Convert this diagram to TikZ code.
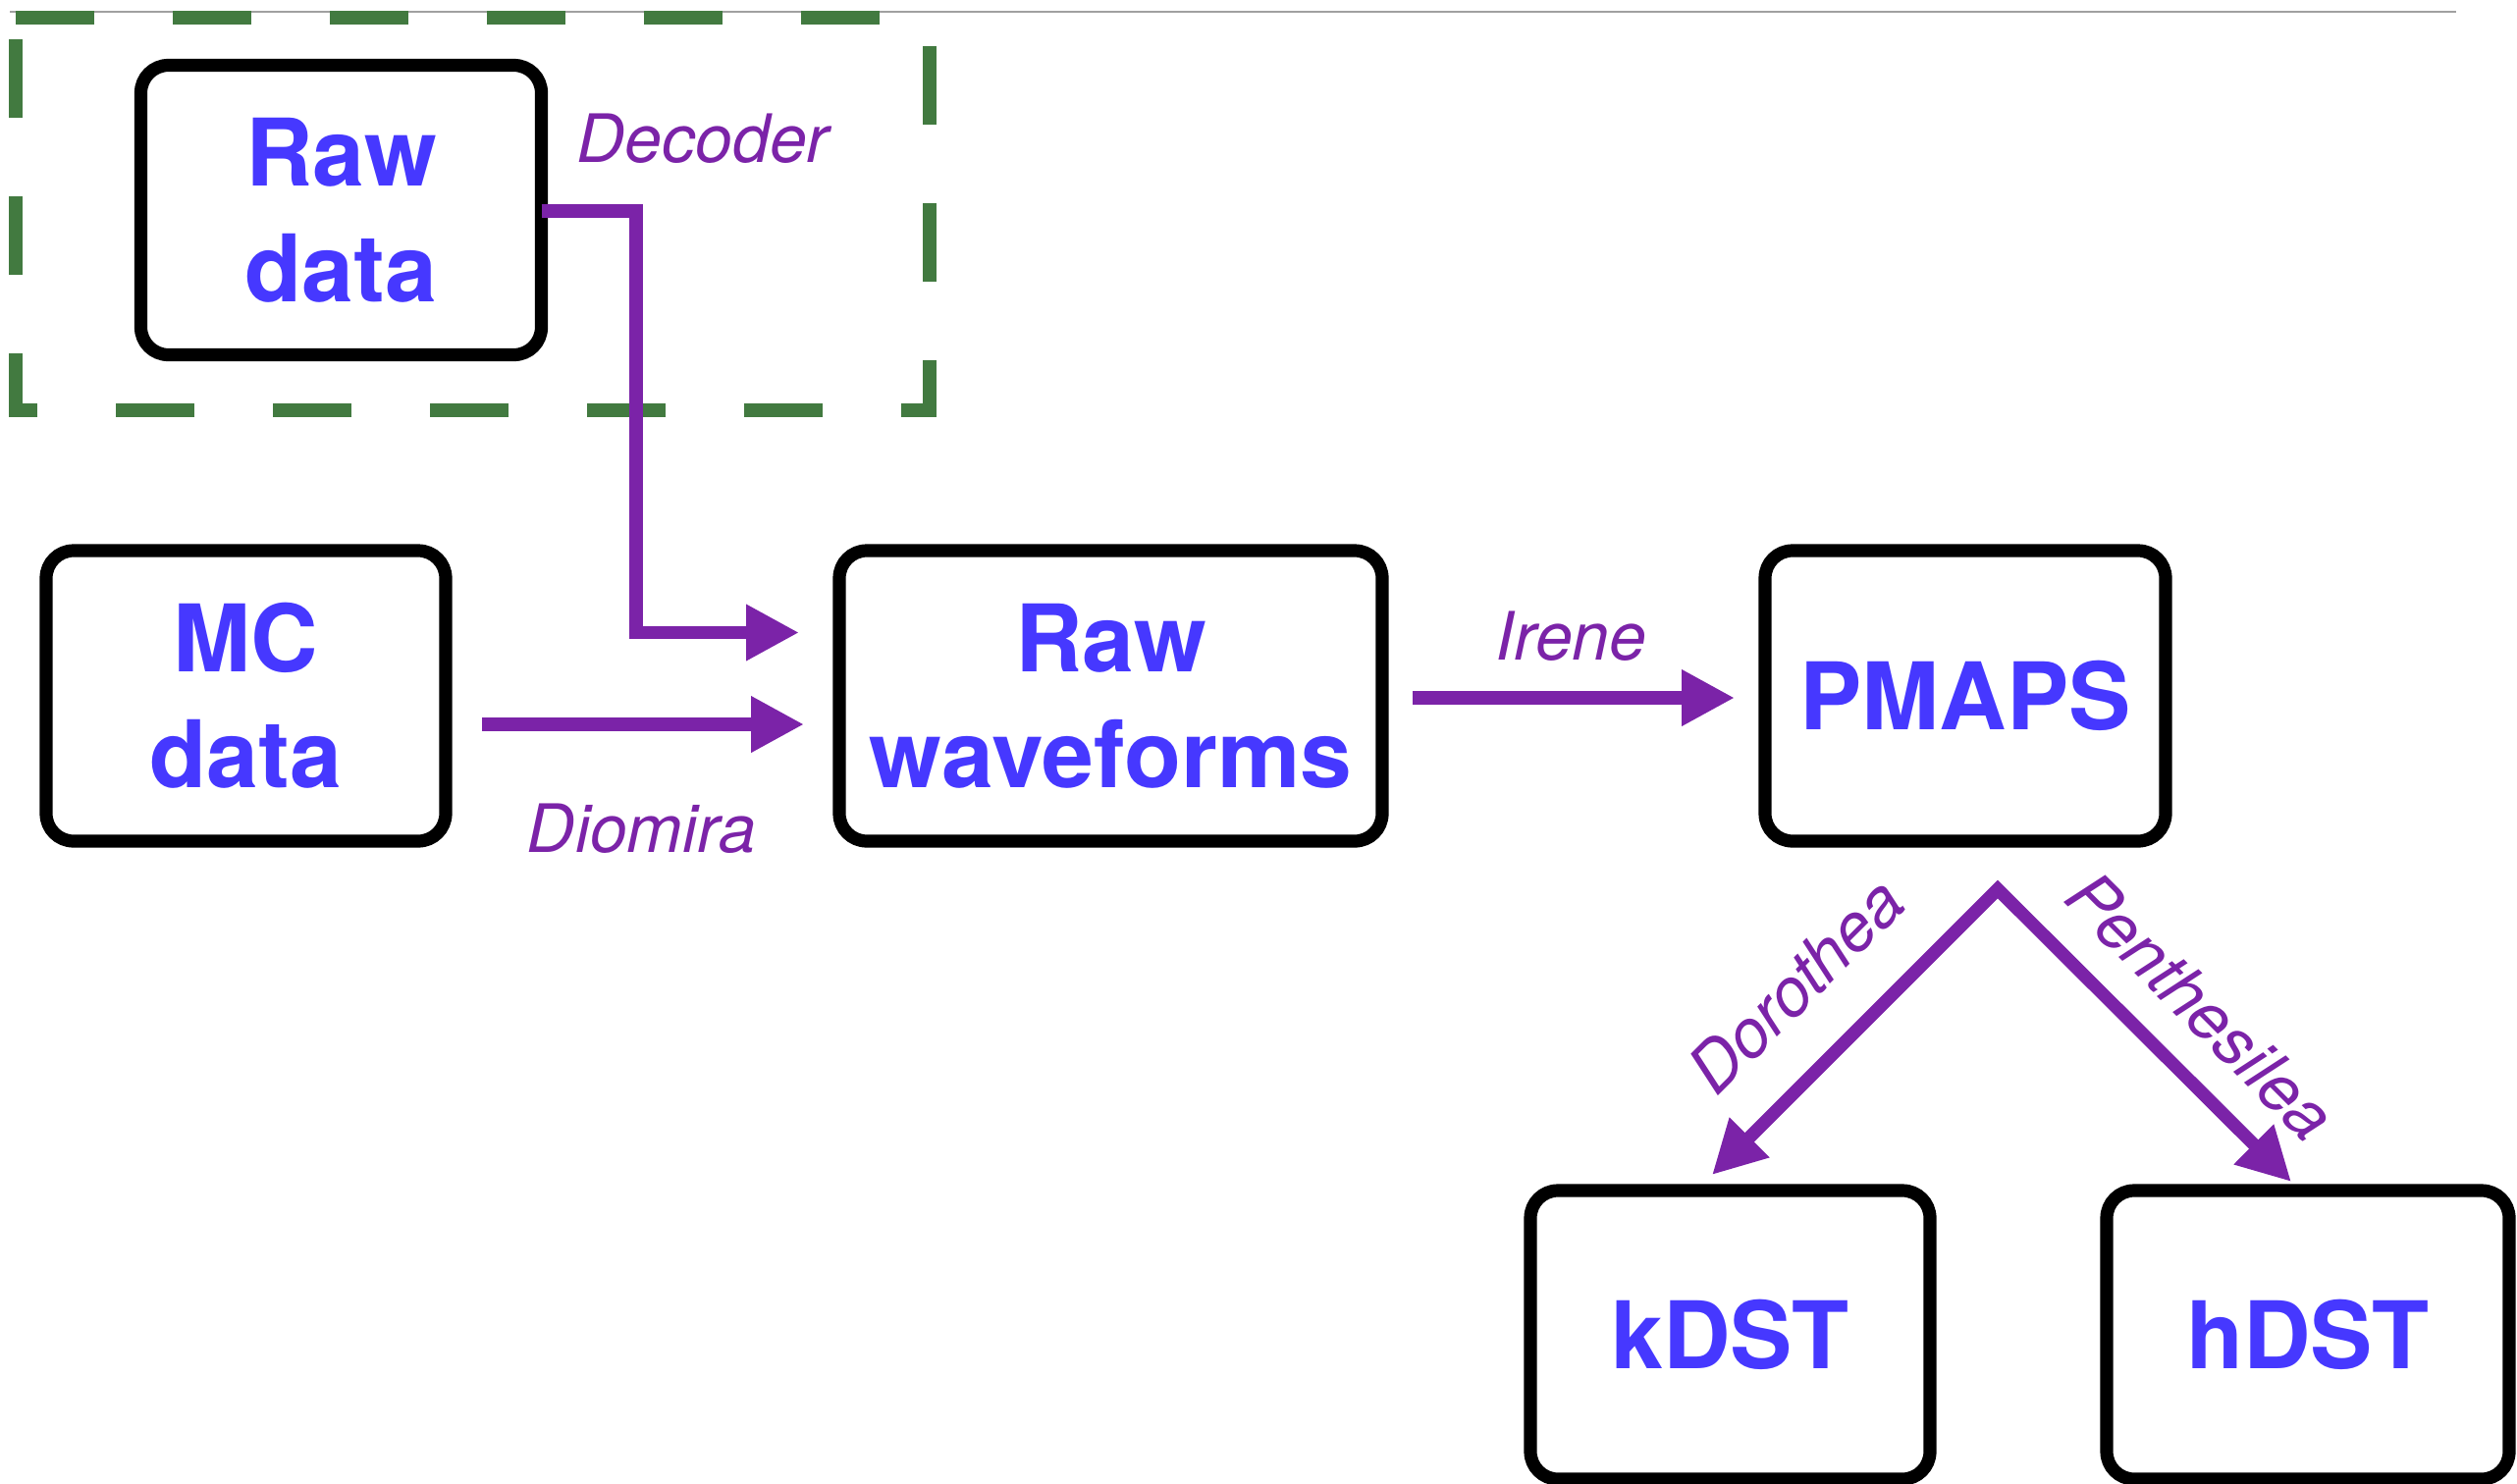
\documentclass[tikz,border=0pt]{standalone}
\usepackage{fontspec}
\setmainfont{TeX Gyre Heros}
\usetikzlibrary{arrows.meta,calc}
\definecolor{boxtext}{RGB}{70,56,255}
\definecolor{flowpurple}{RGB}{123,35,168}
\definecolor{groupgreen}{RGB}{66,122,64}
\definecolor{rulegray}{RGB}{160,160,160}
\tikzset{
  stage/.style={draw=black, line width=6.6pt, rounded corners=14pt, outer sep=0pt,
    inner sep=0pt, align=center, text=boxtext,
    font=\fontsize{47.5pt}{59pt}\selectfont\bfseries},
  flowtip/.tip={Triangle[length=27pt,width=27pt]},
  flow/.style={draw=flowpurple, line width=6.6pt, -flowtip},
  tool/.style={text=flowpurple, inner sep=0pt,
    font=\fontsize{34pt}{40pt}\selectfont\itshape},
}
\begin{document}
\begin{tikzpicture}[x=0.5pt,y=-0.5pt]
\useasboundingbox (0,0) rectangle (2564,1511);

% top rule and the dashed group around the raw data
\draw[rulegray, line width=1.3pt] (10,12) -- (2502,12);
\draw[groupgreen, line width=6.6pt, dash pattern=on 40pt off 40pt]
  (16,18) -- (947,18) -- (947,418) -- (16,418) -- cycle;

% processing stages
\node[stage, minimum width=204pt,   minimum height=147.5pt] (raw)   at (347.5,214)  {Raw\\data};
\node[stage, minimum width=203.5pt, minimum height=148pt]   (mc)    at (250.5,709)  {MC\\data};
\node[stage, minimum width=276.5pt, minimum height=148pt]   (wave)  at (1131.5,709) {Raw\\waveforms};
\node[stage, minimum width=204pt,   minimum height=148pt]   (pmaps) at (2002,709)   {PMAPS};
\node[stage, minimum width=203.5pt, minimum height=147pt]   (kdst)  at (1762.5,1360) {kDST};
\node[stage, minimum width=205pt,   minimum height=147pt]   (hdst)  at (2351,1360)  {hDST};

% Decoder: raw data -> raw waveforms
\coordinate (decturn) at (648,644.5);
\draw[flow] ($(raw.east)+(0,1)$) -| (decturn) -- ($(wave.west)+(-41,-64.5)$);

% Diomira: MC data -> raw waveforms
\coordinate (diostart) at ($(mc.east)+(37,29)$);
\draw[flow] (diostart) -- ($(wave.west)+(-36,29)$);

% Irene: raw waveforms -> PMAPS
\coordinate (irestart) at ($(wave.east)+(31,2)$);
\draw[flow] (irestart) -- ($(pmaps.west)+(-31,2)$);

% Dorothea / Penthesilea: PMAPS -> kDST, hDST
\coordinate (split) at (2035,906);
\draw[flow, flowtip-flowtip] ($(kdst.north)+(-18.5,-16)$) -- (split) -- ($(hdst.north)+(-17,-9)$);

% city names
\node[tool, anchor=base] (decoder) at (716,165)    {Decoder};
\node[tool, anchor=base] (diomira) at (653.5,868)  {Diomira};
\node[tool, anchor=base] (irene)   at (1600.5,672) {Irene};
\node[tool, rotate=45]  (dorothea)    at (1829,1004) {Dorothea};
\node[tool, rotate=-45] (penthesilea) at (2242,1025) {Penthesilea};
\end{tikzpicture}
\end{document}
